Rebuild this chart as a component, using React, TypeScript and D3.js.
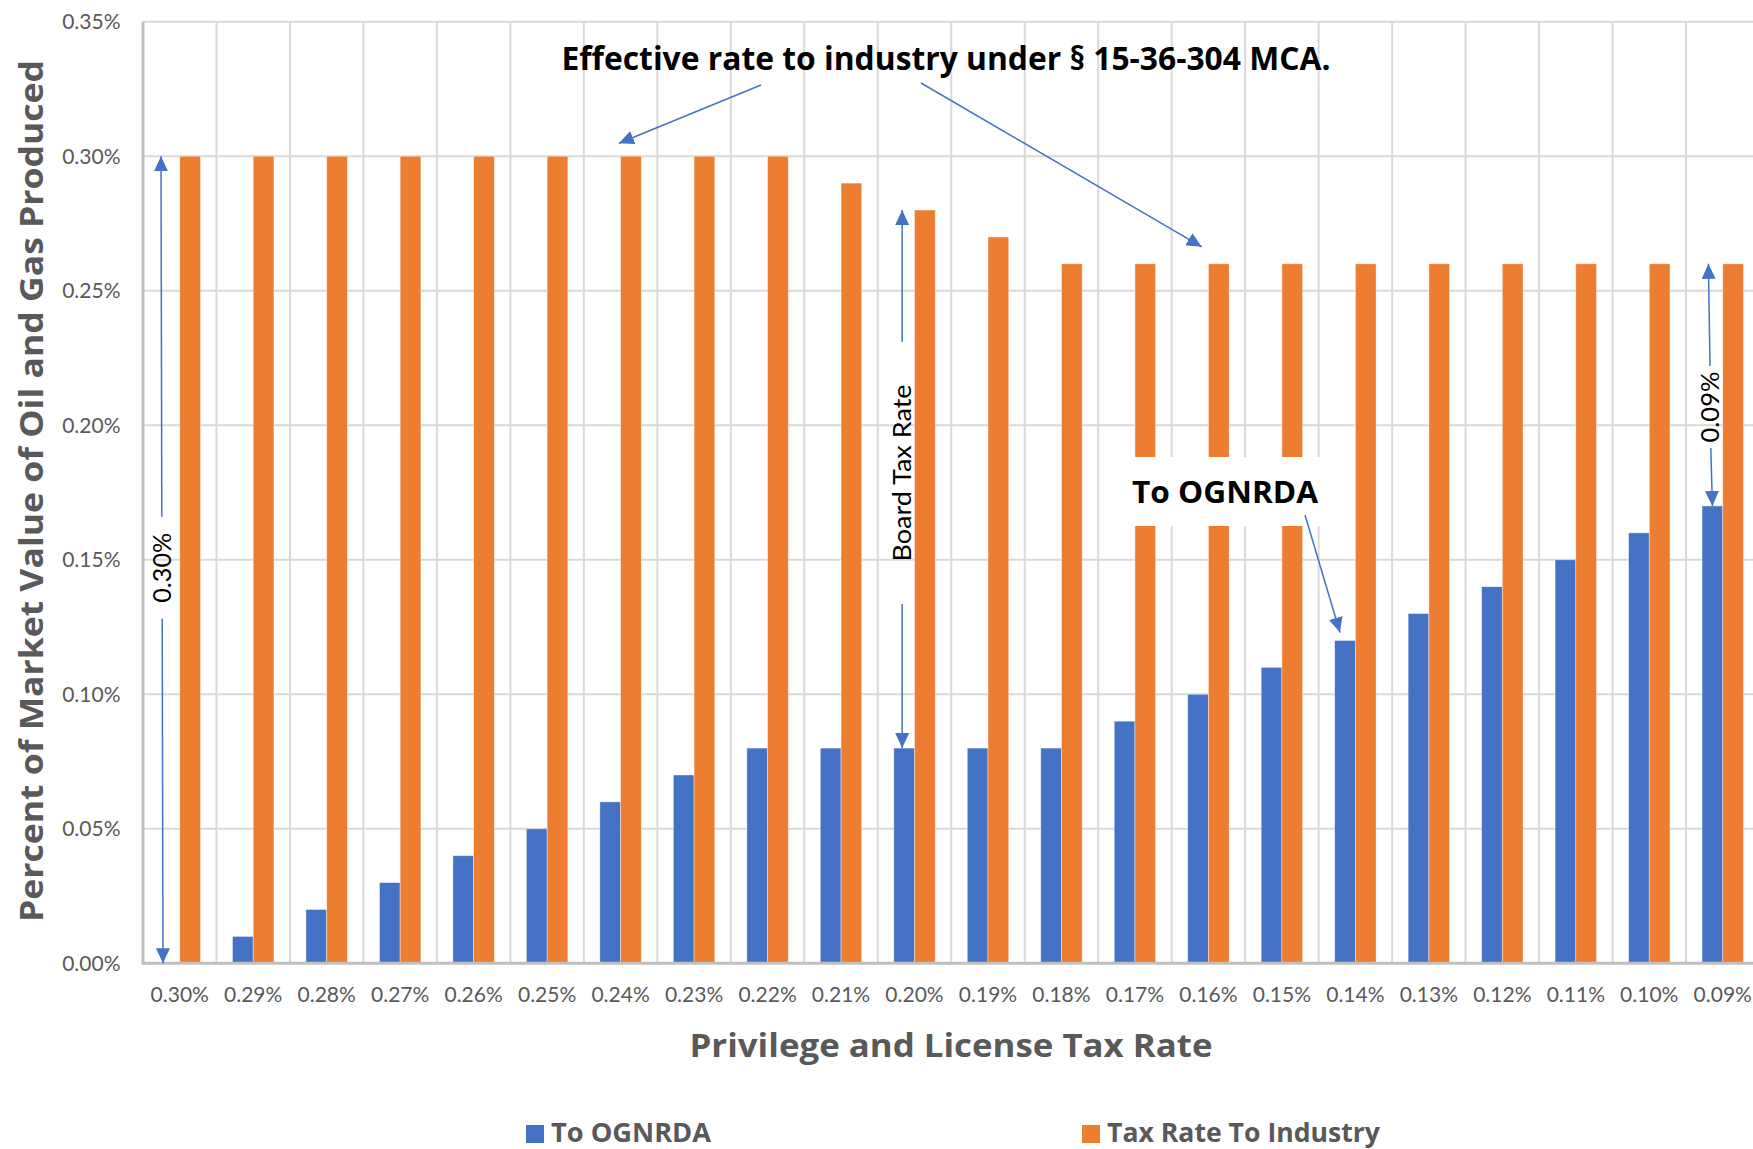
import React from "react";
import * as d3 from "d3";

// tax rate categories (x axis)
const rates = ["0.30%", "0.29%", "0.28%", "0.27%", "0.26%", "0.25%", "0.24%", "0.23%", "0.22%", "0.21%", "0.20%",
  "0.19%", "0.18%", "0.17%", "0.16%", "0.15%", "0.14%", "0.13%", "0.12%", "0.11%", "0.10%", "0.09%"];
// series values in percent
const toOgnrda = [0, 0.01, 0.02, 0.03, 0.04, 0.05, 0.06, 0.07, 0.08, 0.08, 0.08,
  0.08, 0.08, 0.09, 0.10, 0.11, 0.12, 0.13, 0.14, 0.15, 0.16, 0.17];
const toIndustry = [0.30, 0.30, 0.30, 0.30, 0.30, 0.30, 0.30, 0.30, 0.30, 0.29, 0.28,
  0.27, 0.26, 0.26, 0.26, 0.26, 0.26, 0.26, 0.26, 0.26, 0.26, 0.26];
const yTicks = [0, 0.05, 0.10, 0.15, 0.20, 0.25, 0.30, 0.35];
const seriesNames = ["To OGNRDA", "Tax Rate To Industry"];
const seriesColors = ["#4472C4", "#ED7D31"];

const W = 1753, H = 1149;
const m = { left: 143, top: 21.7, right: 1759.5, bottom: 963.3 };
const FONT = "Lato, 'Open Sans', sans-serif";
const BOLD = "'Open Sans', Lato, sans-serif";
const BLUE = "#4472C4";

const App = () => {
  const x = d3.scaleBand<string>().domain(rates).range([m.left, m.right]);
  const bw = x.bandwidth();
  const x1 = d3.scaleBand<number>().domain([0, 1]).range([bw * 0.218, bw * 0.782]);
  const y = d3.scaleLinear().domain([0, 0.35]).range([m.bottom, m.top]);
  const fmt = (v: number) => d3.format(".2f")(v) + "%";
  const series = [toOgnrda, toIndustry];

  const blueC = (cat: string) => (x(cat) as number) + (x1(0) as number) + x1.bandwidth() / 2;
  const orangeC = (cat: string) => (x(cat) as number) + (x1(1) as number) + x1.bandwidth() / 2;

  // double arrows with a rotated label between the two halves
  const dbl = [
    { label: "0.30%", xt: (x(rates[0]) as number) + 18, xb: (x(rates[0]) as number) + 20, top: 0.30, bot: 0, mid: y(0.15) + 8, half: 35, gap: 16, len: 70 },
    { label: "Board Tax Rate", xt: blueC("0.20%") - 2, xb: blueC("0.20%") - 2, top: 0.28, bot: 0.08, mid: 473, half: 89, gap: 42, len: 177 },
    { label: "0.09%", xt: blueC("0.09%") - 4, xb: blueC("0.09%"), top: 0.26, bot: 0.17, mid: 407, half: 35, gap: 6, len: 71 },
  ];

  return (
    <svg width={W} height={H} style={{ position: "absolute", left: 0, top: 0, background: "#fff" }} fontFamily={FONT}>
      <defs>
        <marker id="ah" viewBox="0 -7 15 14" refX={15} refY={0} markerWidth={15} markerHeight={14}
          markerUnits="userSpaceOnUse" orient="auto">
          <path d="M0,-7L15,0L0,7Z" fill={BLUE} />
        </marker>
      </defs>

      {/* gridlines */}
      {yTicks.slice(1).map(t => (
        <line key={t} x1={m.left} x2={m.right} y1={y(t)} y2={y(t)} stroke="#D9D9D9" strokeWidth={2} />
      ))}
      {rates.slice(1).map(r => (
        <line key={r} x1={x(r)} x2={x(r)} y1={m.top} y2={m.bottom} stroke="#D9D9D9" strokeWidth={2} />
      ))}
      <line x1={m.right} x2={m.right} y1={m.top} y2={m.bottom} stroke="#D9D9D9" strokeWidth={2} />

      {/* bars */}
      {series.map((vals, si) => (
        <g key={si}>
          {vals.map((v, i) => (
            <rect key={i} x={(x(rates[i]) as number) + (x1(si) as number)} width={x1.bandwidth()}
              y={y(v)} height={y(0) - y(v)} fill={seriesColors[si]} stroke="#fff" strokeOpacity={0.5} strokeWidth={0.8} />
          ))}
        </g>
      ))}

      {/* axes */}
      <line x1={m.left} x2={m.left} y1={m.top} y2={m.bottom + 1.5} stroke="#BFBFBF" strokeWidth={3} />
      <line x1={m.left} x2={m.right} y1={m.bottom} y2={m.bottom} stroke="#BFBFBF" strokeWidth={3} />
      {yTicks.map(t => (
        <text key={t} x={120.5} y={y(t) + 7.5} textAnchor="end" fontSize={21} fill="#595959">{fmt(t)}</text>
      ))}
      {rates.map(r => (
        <text key={r} x={(x(r) as number) + bw / 2} y={1002} textAnchor="middle" fontSize={21} fill="#595959">{r}</text>
      ))}

      <text transform={`translate(43,491) rotate(-90)`} textAnchor="middle" fontFamily={BOLD} fontSize={33} fontWeight="bold"
        fill="#595959" textLength={862} lengthAdjust="spacingAndGlyphs">
        Percent of Market Value of Oil and Gas Produced
      </text>
      <text x={951} y={1056.5} textAnchor="middle" fontFamily={BOLD} fontSize={33} fontWeight="bold" fill="#595959"
        textLength={523} lengthAdjust="spacingAndGlyphs">
        Privilege and License Tax Rate
      </text>

      {/* legend */}
      {seriesNames.map((n, i) => {
        const lx = [526, 1082][i];
        const ll = [160, 273][i];
        return (
          <g key={n}>
            <rect x={lx} y={1125} width={18} height={18} fill={seriesColors[i]} />
            <text x={lx + 25} y={1142} fontFamily={BOLD} fontSize={27} fontWeight="bold" fill="#595959"
              textLength={ll} lengthAdjust="spacingAndGlyphs">{n}</text>
          </g>
        );
      })}

      {/* annotations */}
      <text x={946} y={69.5} textAnchor="middle" fontFamily={BOLD} fontSize={31.5} fontWeight="bold" fill="#000"
        textLength={769} lengthAdjust="spacingAndGlyphs">
        Effective rate to industry under § 15-36-304 MCA.
      </text>
      <line x1={761} y1={85} x2={orangeC("0.24%") - 12} y2={y(0.30) - 13} stroke={BLUE} strokeWidth={1.5} markerEnd="url(#ah)" />
      <line x1={921} y1={83} x2={orangeC("0.16%") - 17} y2={y(0.26) - 17} stroke={BLUE} strokeWidth={1.5} markerEnd="url(#ah)" />

      {dbl.map(d => {
        const yt = y(d.top), yb = y(d.bot);
        const xm = (d.xt + d.xb) / 2;
        return (
          <g key={d.label}>
            <line x1={d.xt + (d.xb - d.xt) * 0.4} y1={d.mid - d.half - d.gap} x2={d.xt} y2={yt} stroke={BLUE} strokeWidth={1.5} markerEnd="url(#ah)" />
            <line x1={d.xt + (d.xb - d.xt) * 0.6} y1={d.mid + d.half + d.gap} x2={d.xb} y2={yb} stroke={BLUE} strokeWidth={1.5} markerEnd="url(#ah)" />
            <text transform={`translate(${xm + 9},${d.mid}) rotate(-90)`} textAnchor="middle" fontSize={25} fill="#000"
              textLength={d.len} lengthAdjust="spacingAndGlyphs">{d.label}</text>
          </g>
        );
      })}

      <rect x={1120} y={457} width={205} height={69} fill="#fff" />
      <text x={1132} y={503} fontFamily={BOLD} fontSize={31} fontWeight="bold" fill="#000"
        textLength={186} lengthAdjust="spacingAndGlyphs">To OGNRDA</text>
      <line x1={1305} y1={515} x2={blueC("0.14%") - 5} y2={y(0.12) - 8} stroke={BLUE} strokeWidth={1.5} markerEnd="url(#ah)" />
    </svg>
  );
};

export default App;
